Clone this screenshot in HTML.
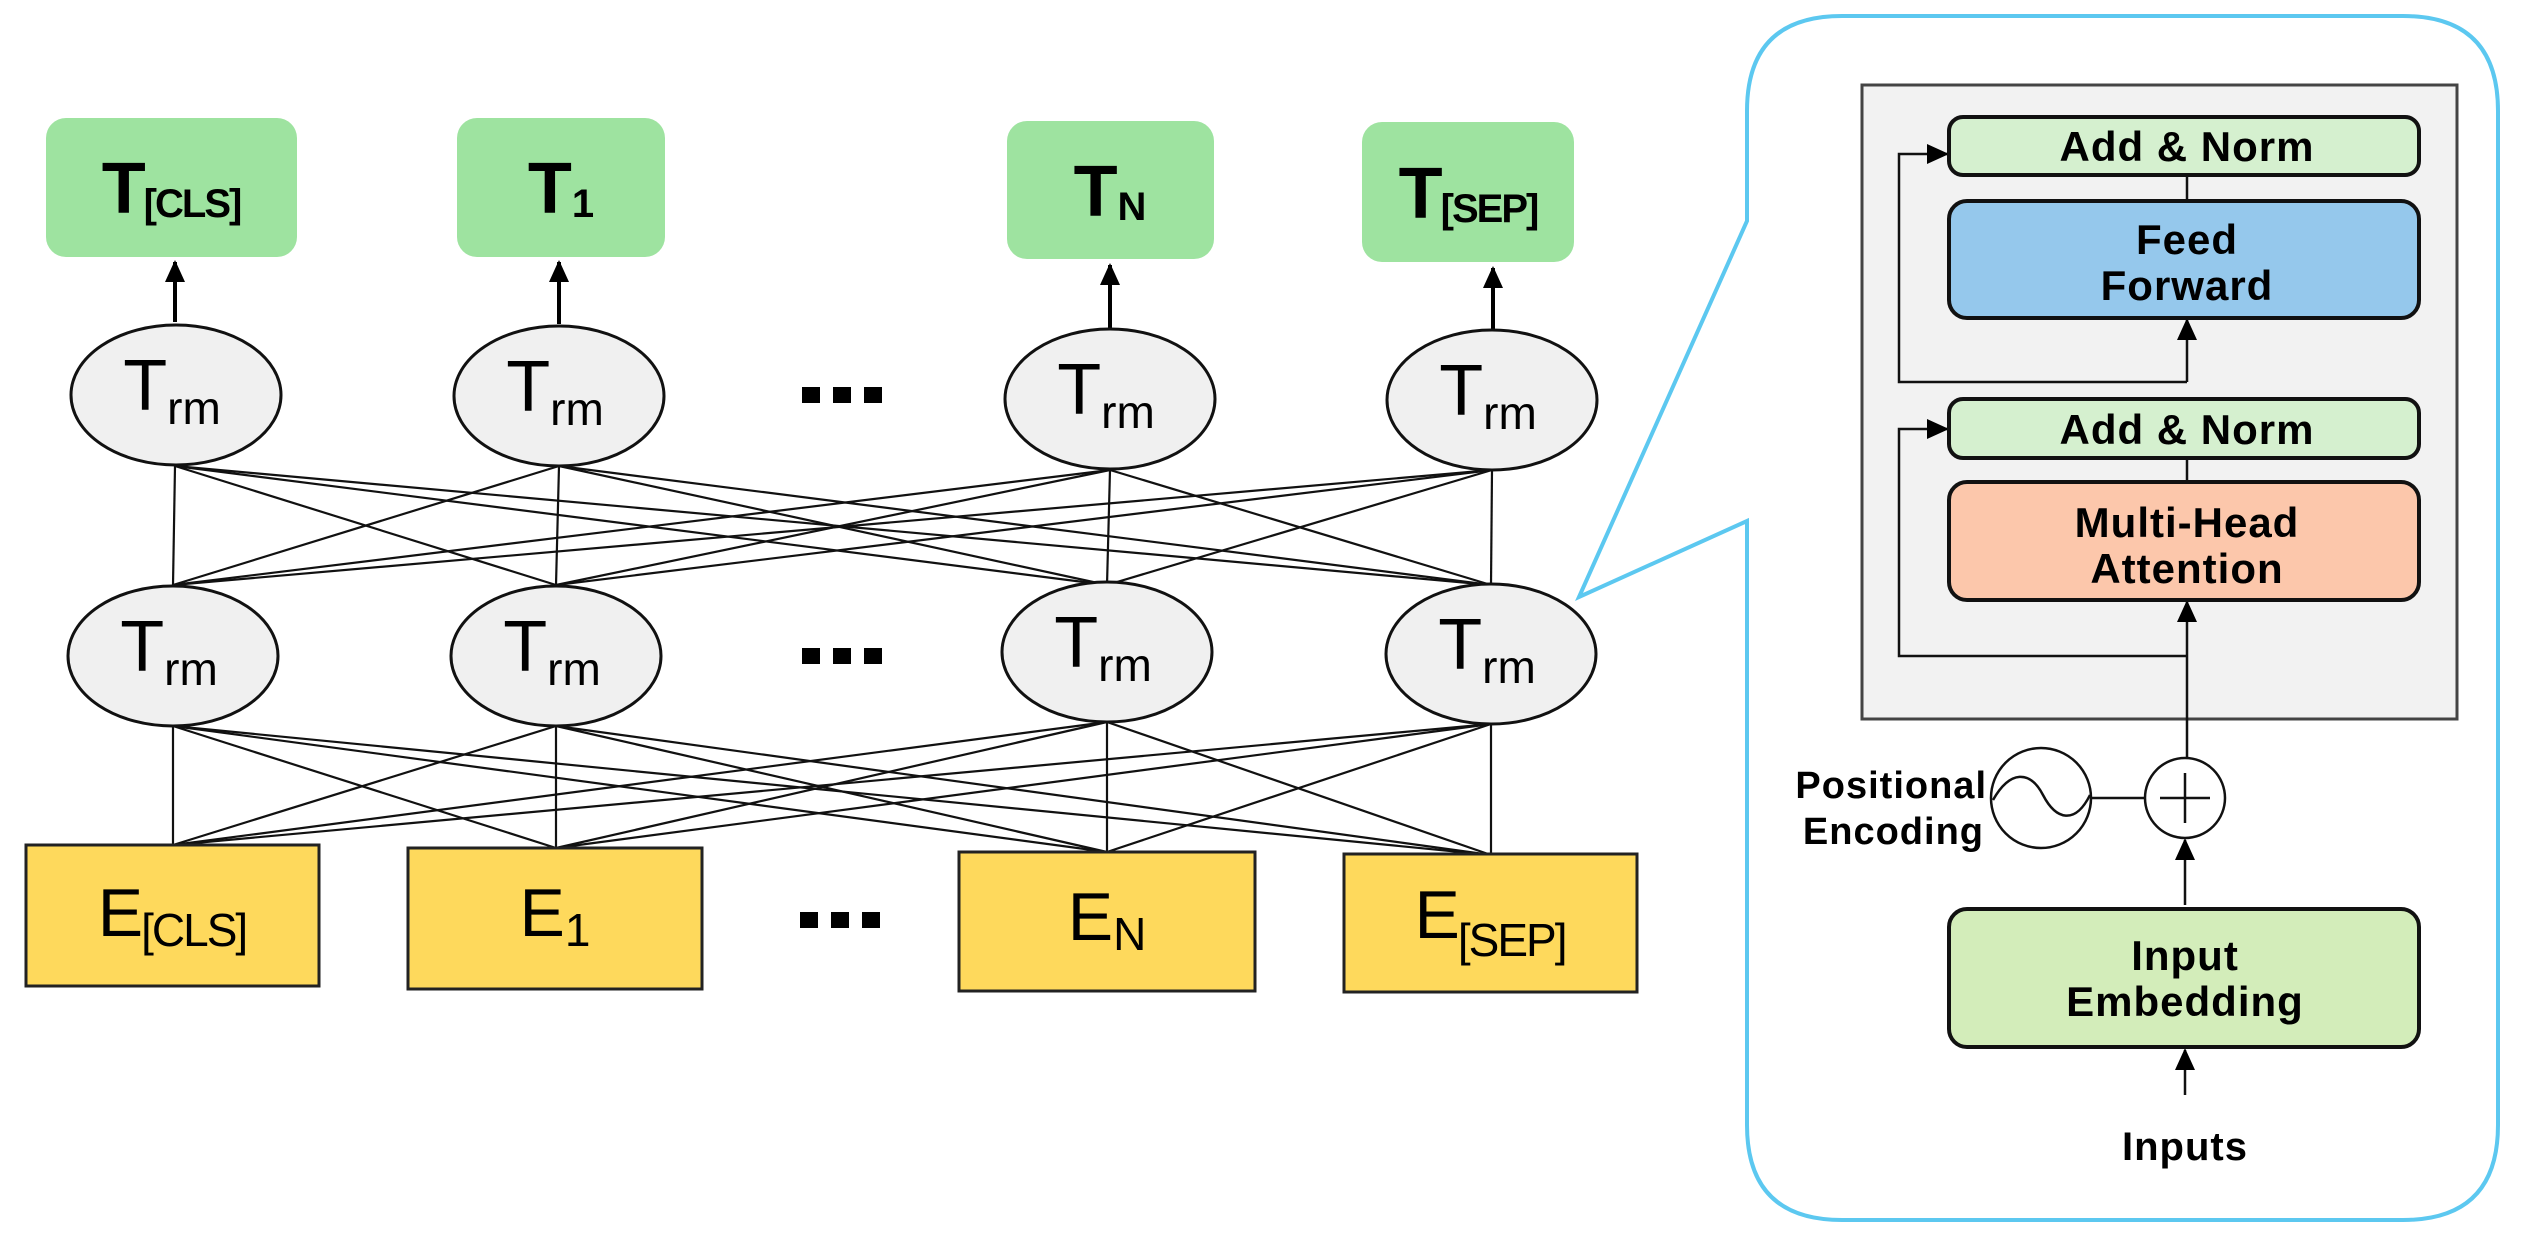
<!DOCTYPE html>
<html><head><meta charset="utf-8"><style>
html,body{margin:0;padding:0;background:#fff}
svg{display:block}
text{font-family:"Liberation Sans",Arial,sans-serif}
</style></head><body>
<svg width="2521" height="1236" viewBox="0 0 2521 1236" xmlns="http://www.w3.org/2000/svg">
<defs>
<marker id="ah2" markerWidth="22" markerHeight="20" refX="20" refY="10" orient="auto" markerUnits="userSpaceOnUse"><path d="M0,0 L22,10 L0,20 z" fill="#000"/></marker>
</defs>
<g fill="#9ee3a0">
<rect x="46" y="118" width="251" height="139" rx="20"/>
<rect x="457" y="118" width="208" height="139" rx="20"/>
<rect x="1007" y="121" width="207" height="138" rx="20"/>
<rect x="1362" y="122" width="212" height="140" rx="20"/>
</g>
<g font-weight="bold" text-anchor="middle">
<text x="171" y="213" font-size="72" letter-spacing="-2">T<tspan font-size="40" dy="4">[CLS]</tspan></text>
<text x="561" y="213" font-size="72">T<tspan font-size="40" dy="4">1</tspan></text>
<text x="1110" y="216" font-size="72">T<tspan font-size="40" dy="4">N</tspan></text>
<text x="1468" y="218" font-size="72" letter-spacing="-2">T<tspan font-size="40" dy="4">[SEP]</tspan></text>
</g>
<g stroke="#000" stroke-width="4" marker-end="url(#ah2)">
<line x1="175" y1="322" x2="175" y2="262"/>
<line x1="559" y1="324" x2="559" y2="262"/>
<line x1="1110" y1="328" x2="1110" y2="265"/>
<line x1="1493" y1="330" x2="1493" y2="268"/>
</g>
<g stroke="#111" stroke-width="2.2">
<line x1="175" y1="466" x2="173" y2="585"/><line x1="175" y1="466" x2="556" y2="585"/><line x1="175" y1="466" x2="1107" y2="585"/><line x1="175" y1="466" x2="1491" y2="585"/>
<line x1="559" y1="466" x2="173" y2="585"/><line x1="559" y1="466" x2="556" y2="585"/><line x1="559" y1="466" x2="1107" y2="585"/><line x1="559" y1="466" x2="1491" y2="585"/>
<line x1="1110" y1="470" x2="173" y2="585"/><line x1="1110" y1="470" x2="556" y2="585"/><line x1="1110" y1="470" x2="1107" y2="585"/><line x1="1110" y1="470" x2="1491" y2="585"/>
<line x1="1492" y1="470" x2="173" y2="585"/><line x1="1492" y1="470" x2="556" y2="585"/><line x1="1492" y1="470" x2="1107" y2="585"/><line x1="1492" y1="470" x2="1491" y2="585"/>
<line x1="173" y1="726" x2="173" y2="845"/><line x1="173" y1="726" x2="556" y2="848"/><line x1="173" y1="726" x2="1107" y2="852"/><line x1="173" y1="726" x2="1491" y2="855"/>
<line x1="556" y1="726" x2="173" y2="845"/><line x1="556" y1="726" x2="556" y2="848"/><line x1="556" y1="726" x2="1107" y2="852"/><line x1="556" y1="726" x2="1491" y2="855"/>
<line x1="1107" y1="722" x2="173" y2="845"/><line x1="1107" y1="722" x2="556" y2="848"/><line x1="1107" y1="722" x2="1107" y2="852"/><line x1="1107" y1="722" x2="1491" y2="855"/>
<line x1="1491" y1="724" x2="173" y2="845"/><line x1="1491" y1="724" x2="556" y2="848"/><line x1="1491" y1="724" x2="1107" y2="852"/><line x1="1491" y1="724" x2="1491" y2="855"/>
</g>
<g fill="#f0f0f0" stroke="#111" stroke-width="3">
<ellipse cx="176" cy="395" rx="105" ry="70"/><ellipse cx="559" cy="396" rx="105" ry="70"/><ellipse cx="1110" cy="399" rx="105" ry="70"/><ellipse cx="1492" cy="400" rx="105" ry="70"/>
<ellipse cx="173" cy="656" rx="105" ry="70"/><ellipse cx="556" cy="656" rx="105" ry="70"/><ellipse cx="1107" cy="652" rx="105" ry="70"/><ellipse cx="1491" cy="654" rx="105" ry="70"/>
</g>
<g font-size="72" text-anchor="middle">
<text x="172" y="410">T<tspan font-size="46" dy="14">rm</tspan></text>
<text x="555" y="411">T<tspan font-size="46" dy="14">rm</tspan></text>
<text x="1106" y="414">T<tspan font-size="46" dy="14">rm</tspan></text>
<text x="1488" y="415">T<tspan font-size="46" dy="14">rm</tspan></text>
<text x="169" y="671">T<tspan font-size="46" dy="14">rm</tspan></text>
<text x="552" y="671">T<tspan font-size="46" dy="14">rm</tspan></text>
<text x="1103" y="667">T<tspan font-size="46" dy="14">rm</tspan></text>
<text x="1487" y="669">T<tspan font-size="46" dy="14">rm</tspan></text>
</g>
<g fill="#000">
<rect x="802" y="387" width="18" height="16"/><rect x="833" y="387" width="18" height="16"/><rect x="864" y="387" width="18" height="16"/>
<rect x="802" y="648" width="18" height="16"/><rect x="833" y="648" width="18" height="16"/><rect x="864" y="648" width="18" height="16"/>
<rect x="800" y="912" width="18" height="16"/><rect x="831" y="912" width="18" height="16"/><rect x="862" y="912" width="18" height="16"/>
</g>
<g fill="#fed95c" stroke="#222" stroke-width="3">
<rect x="26" y="845" width="293" height="141"/>
<rect x="408" y="848" width="294" height="141"/>
<rect x="959" y="852" width="296" height="139"/>
<rect x="1344" y="854" width="293" height="138"/>
</g>
<g font-size="68" text-anchor="middle">
<text x="172" y="936" letter-spacing="-2">E<tspan font-size="46" dy="10">[CLS]</tspan></text>
<text x="555" y="936">E<tspan font-size="46" dy="10">1</tspan></text>
<text x="1107" y="940">E<tspan font-size="46" dy="10">N</tspan></text>
<text x="1490" y="938" letter-spacing="-2">E<tspan font-size="46" dy="18">[SEP]</tspan></text>
</g>
<path d="M1747,221 L1747,111 Q1747,16 1842,16 L2403,16 Q2498,16 2498,111 L2498,1125 Q2498,1220 2403,1220 L1842,1220 Q1747,1220 1747,1125 L1747,521 L1579,597 L1747,221 Z" fill="none" stroke="#5cc8f0" stroke-width="4"/>
<rect x="1862" y="85" width="595" height="634" fill="#f2f2f2" stroke="#444" stroke-width="3"/>
<g stroke="#111" stroke-width="2.5" fill="none">
<line x1="2187" y1="175" x2="2187" y2="201"/>
<line x1="2187" y1="458" x2="2187" y2="482"/>
<line x1="2187" y1="382" x2="2187" y2="320" marker-end="url(#ah2)"/>
<polyline points="2187,382 1899,382 1899,154 1947,154" marker-end="url(#ah2)"/>
<line x1="2187" y1="758" x2="2187" y2="602" marker-end="url(#ah2)"/>
<polyline points="2187,656 1899,656 1899,429 1947,429" marker-end="url(#ah2)"/>
<line x1="2185" y1="905" x2="2185" y2="840" marker-end="url(#ah2)"/>
<line x1="2185" y1="1095" x2="2185" y2="1050" marker-end="url(#ah2)"/>
<line x1="2091" y1="798" x2="2145" y2="798"/>
</g>
<g stroke="#111" stroke-width="4">
<rect x="1949" y="117" width="470" height="58" rx="14" fill="#d5f0cf"/>
<rect x="1949" y="201" width="470" height="117" rx="18" fill="#95c8ec"/>
<rect x="1949" y="399" width="470" height="59" rx="14" fill="#d5f0cf"/>
<rect x="1949" y="482" width="470" height="118" rx="18" fill="#fcc7ab"/>
<rect x="1949" y="909" width="470" height="138" rx="18" fill="#d3edba"/>
</g>
<g stroke="#111" stroke-width="2.5" fill="#fff">
<ellipse cx="2041" cy="798" rx="50" ry="50"/>
<circle cx="2185" cy="798" r="40"/>
</g>
<g stroke="#111" stroke-width="2.5" fill="none">
<path d="M1993,800 C2010,770 2030,770 2043,795 C2056,820 2075,825 2090,795"/>
<line x1="2160" y1="798" x2="2210" y2="798"/><line x1="2185" y1="773" x2="2185" y2="823"/>
</g>
<g font-weight="bold" font-size="42" text-anchor="middle" letter-spacing="1">
<text x="2187" y="161">Add &amp; Norm</text>
<text x="2187" y="254">Feed</text>
<text x="2187" y="300">Forward</text>
<text x="2187" y="444">Add &amp; Norm</text>
<text x="2187" y="537">Multi-Head</text>
<text x="2187" y="583">Attention</text>
<text x="2185" y="970">Input</text>
<text x="2185" y="1016">Embedding</text>
<text x="2185" y="1160" font-size="40">Inputs</text>
<text x="1987" y="798" text-anchor="end" font-size="38">Positional</text>
<text x="1984" y="844" text-anchor="end" font-size="38">Encoding</text>
</g>
</svg>
</body></html>
